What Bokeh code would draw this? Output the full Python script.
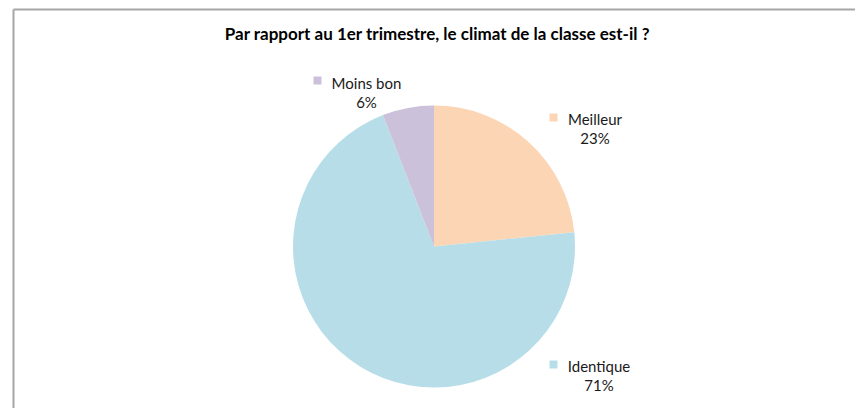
import math
from bokeh.plotting import figure
from bokeh.models import Range1d
from bokeh.core.properties import value
from bokeh.embed import file_html
from bokeh.resources import INLINE

# ---- data ----
categories = ["Meilleur", "Identique", "Moins bon"]
shares = [23.4, 70.7, 5.9]          # percent of answers
colors = ["#FCD5B5", "#B7DEE8", "#CCC1DA"]
title_text = "Par rapport au 1er trimestre, le climat de la classe est-il ?"

# ---- layout (pixels, 1 data unit = 1 px) ----
W, H = 855, 408
cx, cy, R = 433.5, 162.0, 141.0
label_x = [594.5, 598.5, 366.0]      # centre of label text blocks
label_y = [290.0, 43.0, 326.0]       # y of first line (category)
key_x = [553.0, 553.0, 317.0]
key_y = [291.0, 44.0, 328.0]
line_gap = 19.0

p = figure(width=W, height=H, output_backend="svg", toolbar_location=None,
           x_range=Range1d(0, W), y_range=Range1d(0, H),
           min_border=0, min_border_left=0, min_border_right=0,
           min_border_top=0, min_border_bottom=0)
p.axis.visible = False
p.grid.visible = False
p.outline_line_color = None
p.background_fill_color = "white"
p.border_fill_color = "white"

# chart-area border (top and left edges visible in the reference)
p.segment(x0=[13.0, 13.0], y0=[399.0, 0.0], x1=[W, 13.0], y1=[399.0, 399.0],
          line_color="#A6A6A6", line_width=2)

total = sum(shares)
cum = 0.0
starts, ends = [], []
for s in shares:
    starts.append(math.pi / 2 - 2 * math.pi * cum / total)
    cum += s
    ends.append(math.pi / 2 - 2 * math.pi * cum / total)

p.wedge(x=cx, y=cy, radius=R, start_angle=starts, end_angle=ends,
        direction="clock", fill_color=colors, line_color=None)

pct = [f"{round(s / total * 100)}%" for s in shares]

font = value("Lato")
p.text(x=label_x, y=label_y, text=categories, text_align="center",
       text_baseline="middle", text_font=font, text_font_size="15px",
       text_color="#1a1a1a")
p.text(x=label_x, y=[v - line_gap for v in label_y], text=pct, text_align="center",
       text_baseline="middle", text_font=font, text_font_size="15px",
       text_color="#1a1a1a")
p.scatter(x=key_x, y=key_y, marker="square", size=8,
          fill_color=colors, line_color=None)

p.text(x=[437.0], y=[375.0], text=[title_text], text_align="center",
       text_baseline="middle", text_font=font, text_font_size="17px",
       text_font_style="bold", text_color="black")

open("out.html", "w").write(file_html(p, INLINE))
